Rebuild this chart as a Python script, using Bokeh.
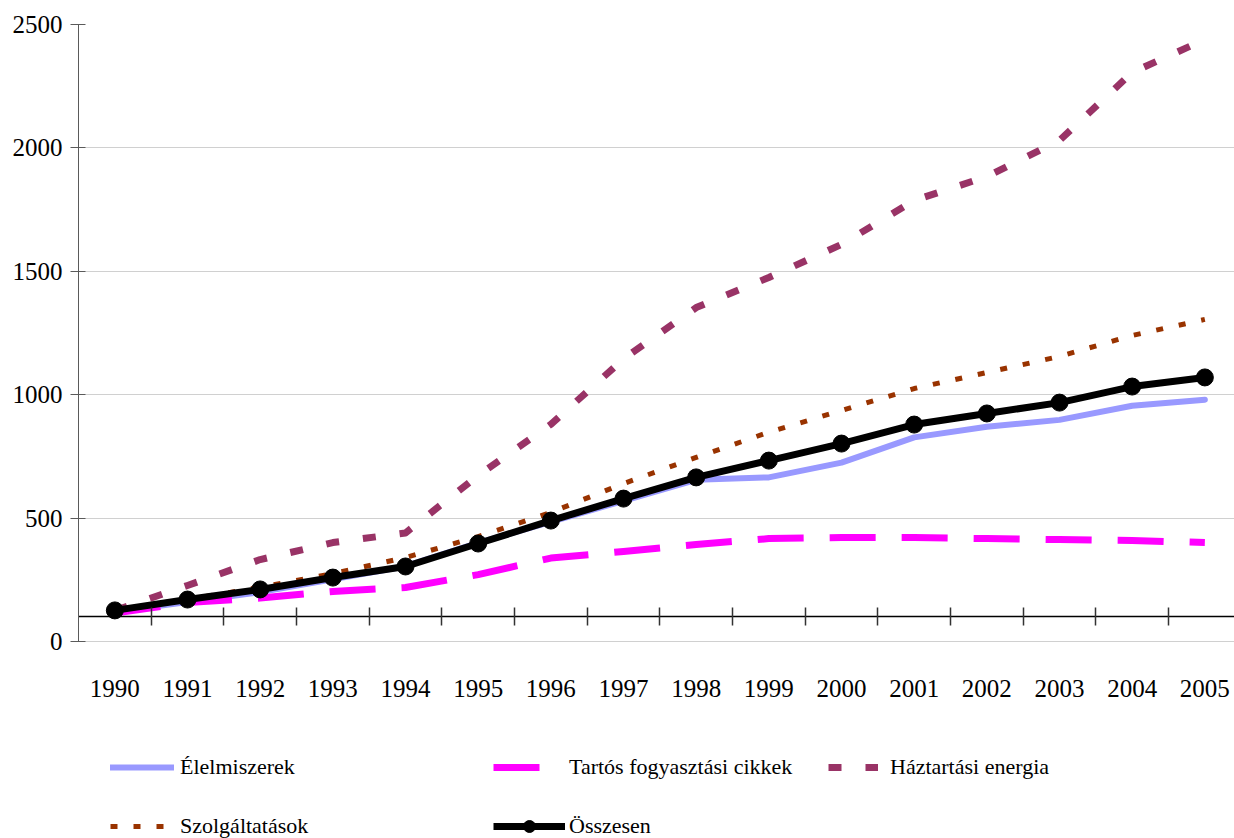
from bokeh.plotting import figure
from bokeh.models import (Range1d, LinearAxis, FixedTicker, Legend, LegendItem,
                          ColumnDataSource)
from bokeh.core.properties import value
from bokeh.embed import file_html
from bokeh.resources import INLINE

# ---- data ----
years = ["1990", "1991", "1992", "1993", "1994", "1995", "1996", "1997",
         "1998", "1999", "2000", "2001", "2002", "2003", "2004", "2005"]
elelmiszerek = [120, 160, 200, 252, 305, 400, 485, 570, 655, 665, 725, 827, 870, 898, 955, 980]
tartos = [115, 158, 176, 203, 219, 271, 338, 365, 393, 417, 421, 421, 417, 413, 409, 401]
energia = [125, 227, 332, 401, 440, 673, 880, 1145, 1353, 1475, 1609, 1787, 1884, 2030, 2306, 2439]
szolgaltatasok = [125, 170, 220, 275, 340, 425, 523, 640, 746, 848, 936, 1025, 1090, 1155, 1240, 1305]
osszesen = [126, 170, 211, 259, 304, 397, 490, 579, 665, 733, 802, 879, 924, 968, 1033, 1070]
y_ticks = [0, 500, 1000, 1500, 2000, 2500]
axis_cross = 100

names = ["Élelmiszerek", "Tartós fogyasztási cikkek", "Háztartási energia",
         "Szolgáltatások", "Összesen"]

x = list(range(len(years)))
FONT = "Liberation Serif"

# frame extends down to the page bottom so that labels and legend live inside it
PX_PER_UNIT = 617 / 2500.0
y_bottom = -(838 - 641) / PX_PER_UNIT

p = figure(width=1234, height=838, output_backend="svg", toolbar_location=None,
           x_range=Range1d(-0.5, 15.408), y_range=Range1d(y_bottom, 2500),
           x_axis_location=None, y_axis_location=None,
           min_border_left=78, min_border_right=0, min_border_top=24,
           min_border_bottom=0)
p.outline_line_color = None
p.background_fill_color = "white"
p.border_fill_color = "white"

p.xgrid.grid_line_color = None
p.ygrid.ticker = FixedTicker(ticks=y_ticks)
p.ygrid.grid_line_color = "#D0D0D0"
p.ygrid.grid_line_width = 1

# y axis
yax = LinearAxis(ticker=FixedTicker(ticks=y_ticks), bounds=(y_ticks[0], y_ticks[-1]))
yax.axis_line_color = "#5a5a5a"
yax.major_tick_line_color = "#5a5a5a"
yax.major_tick_in = 7
yax.major_tick_out = 8
yax.minor_tick_line_color = None
yax.major_label_standoff = 8
yax.major_label_text_font = FONT
yax.major_label_text_font_size = "25px"
yax.major_label_text_color = "black"
p.add_layout(yax, "left")

# category axis crossing at 100, ticks between categories
bnd = [i + 0.5 for i in x[:-1]]
xcross = LinearAxis(ticker=FixedTicker(ticks=bnd), fixed_location=axis_cross,
                    major_label_overrides={b: "" for b in bnd})
xcross.axis_line_color = "black"
xcross.axis_line_width = 1.5
xcross.major_tick_line_color = "#333333"
xcross.major_tick_line_width = 1.5
xcross.major_tick_in = 9
xcross.major_tick_out = 9
xcross.minor_tick_line_color = None
xcross.major_label_text_font_size = "0px"
xcross.major_label_standoff = 0
p.add_layout(xcross, "above")

# category labels (low position, below the value-axis zero)
lab_src = ColumnDataSource(dict(x=x, y=[y_ticks[0]] * len(x), t=years))
p.text(x="x", y="y", text="t", source=lab_src, text_font=value(FONT),
       text_font_size="25px", text_color="black", text_align="center",
       text_baseline="middle", y_offset=47)

# series
r_el = p.line(x, elelmiszerek, line_color="#9999FF", line_width=6,
              line_cap="round", line_join="round")
r_ta = p.line(x, tartos, line_color="#FF00FF", line_width=7,
              line_dash="46 26", line_join="round")
r_en = p.line(x, energia, line_color="#993366", line_width=7,
              line_dash="13 24", line_join="round")
r_sz = p.line(x, szolgaltatasok, line_color="#993300", line_width=5,
              line_dash="7 16", line_join="round")
r_os = p.line(x, osszesen, line_color="black", line_width=7, line_join="round")
r_osm = p.scatter(x, osszesen, size=17, marker="circle",
                  fill_color="black", line_color="black")


def make_legend(items, loc, glyph_w, standoff):
    lg = Legend(items=items, orientation="vertical", location=loc)
    lg.border_line_color = None
    lg.background_fill_alpha = 0
    lg.padding = 0
    lg.margin = 0
    lg.spacing = 29
    lg.glyph_width = glyph_w
    lg.glyph_height = 30
    lg.label_height = 30
    lg.label_standoff = standoff
    lg.label_text_font = FONT
    lg.label_text_font_size = "22px"
    lg.label_text_color = "black"
    p.add_layout(lg, "center")
    return lg


make_legend([LegendItem(label=names[0], renderers=[r_el]),
             LegendItem(label=names[3], renderers=[r_sz])],
            (32, -3), 64, 6)
make_legend([LegendItem(label=names[1], renderers=[r_ta]),
             LegendItem(label=names[4], renderers=[r_os, r_osm])],
            (415, -3), 72, 4)
make_legend([LegendItem(label=names[2], renderers=[r_en])],
            (750, 56), 50, 12)

open("out.html", "w").write(file_html(p, INLINE))
